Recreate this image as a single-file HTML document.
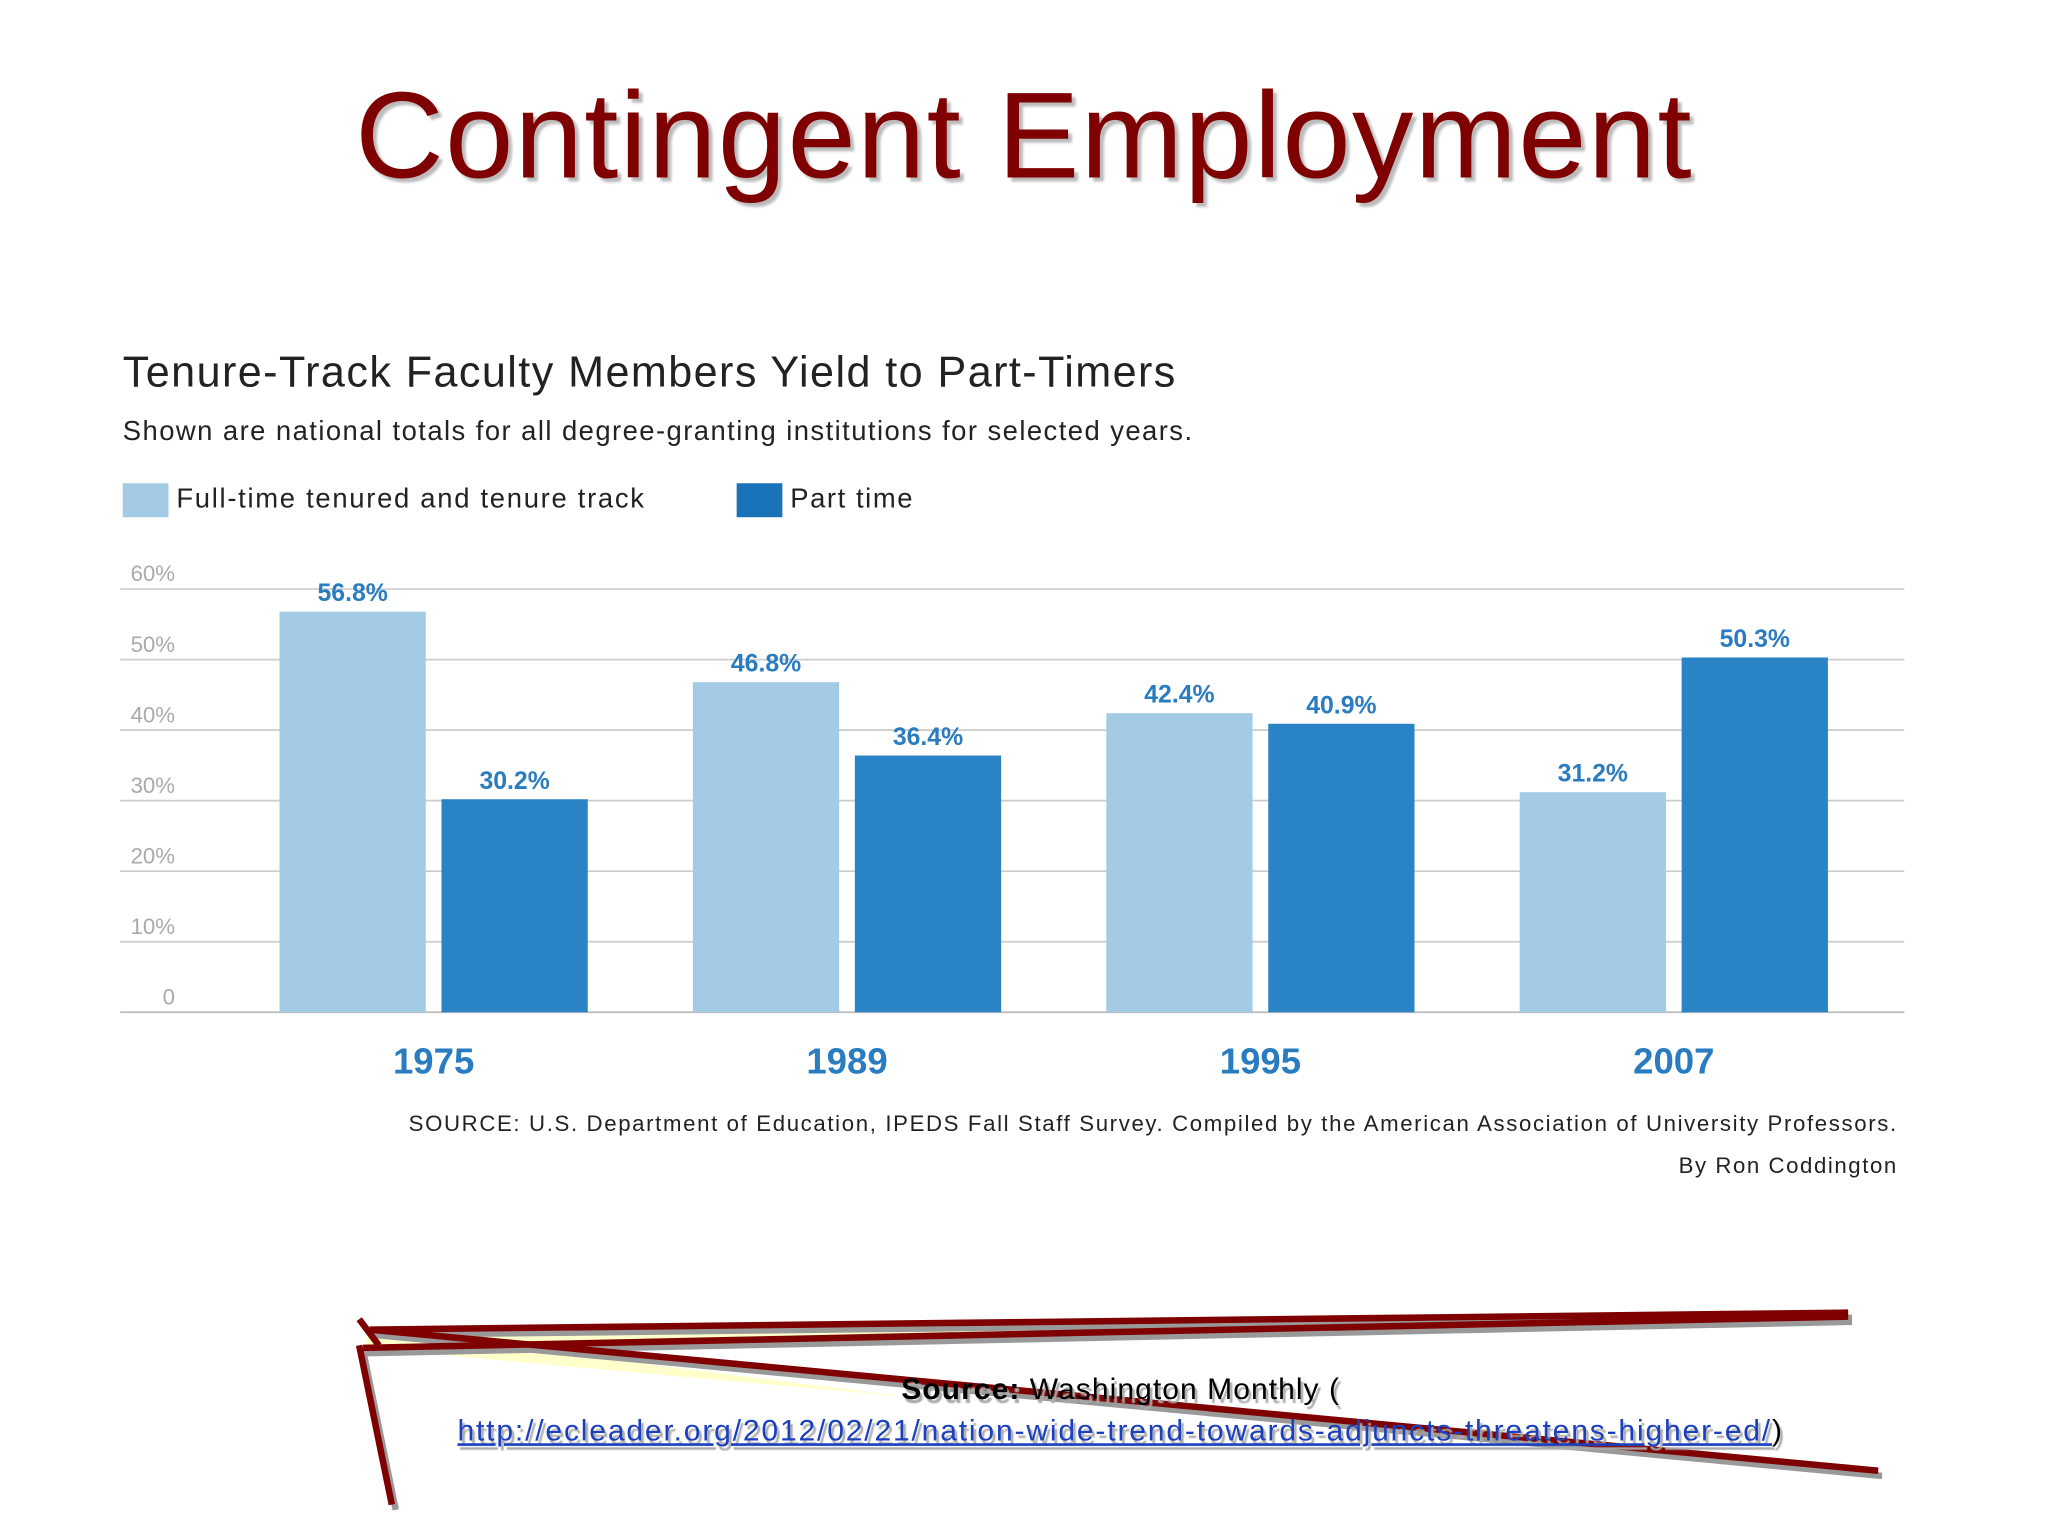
<!DOCTYPE html>
<html><head><meta charset="utf-8">
<style>
html,body{margin:0;padding:0;background:#fff;width:2048px;height:1536px;overflow:hidden}
#s{position:absolute;left:0;top:0;width:1568px;height:1176px;transform:scale(1.306122);transform-origin:0 0;font-family:"Liberation Sans",sans-serif}
.t{position:absolute;white-space:nowrap}
</style></head><body>
<div id="s">
<div class="t" style="left:0;width:1568px;text-align:center;top:50px;font-size:94px;letter-spacing:1px;color:#7f0000;text-shadow:3px 3px 2px #bbb">Contingent Employment</div>
<div class="t" style="left:94px;top:266px;font-size:33px;letter-spacing:1.1px;color:#222">Tenure-Track Faculty Members Yield to Part-Timers</div>
<div class="t" style="left:94px;top:319px;font-size:21px;letter-spacing:1.1px;color:#222">Shown are national totals for all degree-granting institutions for selected years.</div>
<div class="t" style="left:94px;top:370px;font-size:21px;color:#222"><span style="display:inline-block;width:35px;height:26px;background:#a3cbe6;vertical-align:middle;margin-right:6px"></span><span style="letter-spacing:1.3px">Full-time tenured and tenure track</span></div>
<div class="t" style="left:564px;top:370px;font-size:21px;color:#222"><span style="display:inline-block;width:35px;height:26px;background:#1a72b8;vertical-align:middle;margin-right:6px"></span><span style="letter-spacing:1.2px">Part time</span></div>
<svg id="chart" width="1568" height="1176" style="position:absolute;left:0;top:0"></svg>
<div class="t" style="right:115px;top:851px;font-size:17px;letter-spacing:1.25px;color:#222">SOURCE: U.S. Department of Education, IPEDS Fall Staff Survey. Compiled by the American Association of University Professors.</div>
<div class="t" style="right:115px;top:883px;font-size:17px;letter-spacing:1.2px;color:#222">By Ron Coddington</div>
<svg width="1568" height="1176" style="position:absolute;left:0;top:0">
<polygon points="283,1018 1415,1006 278,1032" fill="#ffffcc"/>
<polygon points="283,1018 278,1032 700,1070" fill="#ffffcc"/>
<g stroke="#999" stroke-width="5" fill="none" transform="translate(3,4)">
<line x1="283" y1="1018" x2="1415" y2="1005"/><line x1="278" y1="1032" x2="1415" y2="1008"/><line x1="283" y1="1018" x2="1438" y2="1126"/><line x1="275" y1="1030" x2="300" y2="1152"/></g>
<g stroke="#7f0000" stroke-width="5" fill="none">
<line x1="283" y1="1018" x2="1415" y2="1005"/><line x1="278" y1="1032" x2="1415" y2="1008"/><line x1="283" y1="1018" x2="1438" y2="1126"/><line x1="275" y1="1030" x2="300" y2="1152"/><line x1="275" y1="1010" x2="290" y2="1030"/></g>
</svg>
<div class="t" style="left:0;width:1716px;text-align:center;top:1050px;font-size:23px;letter-spacing:0.8px;color:#000;text-shadow:2px 3px 1px #aaa"><b>Source:</b> Washington Monthly (</div>
<div class="t" style="left:0;width:1716px;text-align:center;top:1082px;font-size:23px;letter-spacing:1.4px;color:#1a3fbf;text-shadow:2px 3px 1px #aaa"><span style="text-decoration:underline">http://ecleader.org/2012/02/21/nation-wide-trend-towards-adjuncts-threatens-higher-ed/</span><span style="color:#000">)</span></div>
</div>
<script>
const years=["1975","1989","1995","2007"];
const fullTime=[56.8,46.8,42.4,31.2];
const partTime=[30.2,36.4,40.9,50.3];
const yTicks=[0,10,20,30,40,50,60];
const yTickLabels=["0","10%","20%","30%","40%","50%","60%"];
const svg=document.getElementById('chart');
const NS="http://www.w3.org/2000/svg";
const y0=775,pxPer=5.4,gx0=92,gx1=1458,g0=214,gstep=316.5,bw=112,gap=12;
const y=v=>y0-v*pxPer;
function mk(t,a){const e=document.createElementNS(NS,t);for(const k in a)e.setAttribute(k,a[k]);svg.appendChild(e);return e;}
yTicks.forEach((v,i)=>{
 const l=mk('line',{x1:gx0,x2:gx1,y1:y(v),y2:y(v),stroke:v===0?'#bbb':'#ccc','stroke-width':1.3});
 
 
 const t=mk('text',{x:134,y:y(v)-6,'text-anchor':'end','font-size':17,fill:'#aaa','font-family':'Liberation Sans'});
 t.textContent=yTickLabels[i];
 
 
});
years.forEach((yr,i)=>{
 const x=g0+i*gstep;
 [[fullTime[i],'#a3cbe6',x],[partTime[i],'#2a83c5',x+bw+gap]].forEach(([v,c,bx],j)=>{
  const r=mk('rect',{x:bx,y:y(v),width:bw,height:v*pxPer,fill:c});
  
  
  const t=mk('text',{x:bx+bw/2,y:y(v)-8,'text-anchor':'middle','font-size':19,'font-weight':'bold',fill:'#2a7cc0','font-family':'Liberation Sans'});
  t.textContent=v.toFixed(1)+'%';
  
  
 });
 const t=mk('text',{x:x+bw+gap/2,y:822,'text-anchor':'middle','font-size':28,'font-weight':'bold',fill:'#2a7cc0','font-family':'Liberation Sans'});
 t.textContent=yr;
 
 
});
</script>
</body></html>
